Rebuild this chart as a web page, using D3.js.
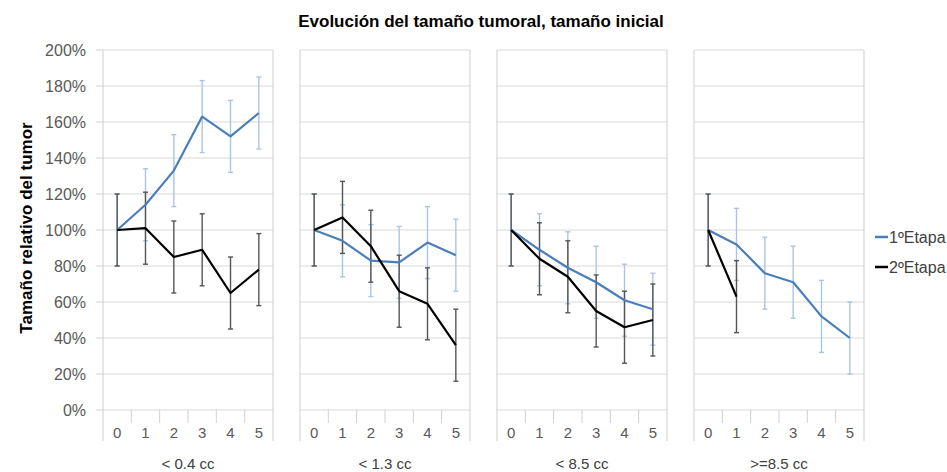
<!DOCTYPE html>
<html>
<head>
<meta charset="utf-8">
<script src="https://cdn.jsdelivr.net/npm/d3@7"></script>
<style>
  body { margin: 0; background: #fff; }
  text { font-family: "Liberation Sans", Arial, sans-serif; }
</style>
</head>
<body>
<svg id="chart" width="947" height="472"></svg>
<script>
// Groups (initial tumour size) and follow-up steps
var groups = ["< 0.4 cc", "< 1.3 cc", "< 8.5 cc", ">=8.5 cc"];
var steps = ["0", "1", "2", "3", "4", "5"];

// Relative tumour size (%) per group, 1st stage
var etapa1 = [
  [100, 114, 133, 163, 152, 165],
  [100, 94, 83, 82, 93, 86],
  [100, 89, 79, 71, 61, 56],
  [100, 92, 76, 71, 52, 40]
];
// 2nd stage
var etapa2 = [
  [100, 101, 85, 89, 65, 78],
  [100, 107, 91, 66, 59, 36],
  [100, 84, 74, 55, 46, 50],
  [100, 63]
];
// error bar half-width (%)
var errorBar = 20;

var yTicks = [0, 20, 40, 60, 80, 100, 120, 140, 160, 180, 200];
var seriesNames = ["1ºEtapa", "2ºEtapa"];

var plotTop = 50, plotBottom = 410;
var svg = d3.select("#chart");

var y = d3.scaleLinear().domain([0, 200]).range([plotBottom, plotTop]);
var gx = d3.scaleBand().domain(groups).range([103, 864]).paddingInner(0.137);

//Title
svg.append("text")
  .attr("x", 481).attr("y", 27)
  .attr("text-anchor", "middle")
  .style("font-size", "17px").style("font-weight", "bold")
  .attr("fill", "#000")
  .text("Evolución del tamaño tumoral, tamaño inicial");

//Y axis title
svg.append("text")
  .attr("transform", "translate(32," + 228 + ") rotate(-90)")
  .attr("text-anchor", "middle")
  .style("font-size", "17px").style("font-weight", "bold")
  .text("Tamaño relativo del tumor");

//Y tick labels and little ticks left of the first panel
svg.selectAll(".ylab").data(yTicks).enter().append("text")
  .attr("class", "ylab")
  .attr("x", 86).attr("y", function(d) { return y(d); })
  .attr("dy", "0.36em")
  .attr("text-anchor", "end")
  .attr("fill", "#595959")
  .style("font-size", "16px")
  .text(function(d) { return d + "%"; });

svg.selectAll(".ytick").data(yTicks).enter().append("line")
  .attr("class", "ytick")
  .attr("x1", 96).attr("x2", gx(groups[0]))
  .attr("y1", function(d) { return y(d); }).attr("y2", function(d) { return y(d); })
  .attr("stroke", "#d0d0d0");

var blue = "#4a7ebb", blueErr = "#a9c5e6", black = "#000", blackErr = "#555";

//One panel per group
groups.forEach(function(g, gi) {
  var x0 = gx(g), w = gx.bandwidth();
  var x = d3.scaleBand().domain(steps).range([x0, x0 + w]);
  var cx = function(d, i) { return x(steps[i]) + x.bandwidth() / 2; };
  var panel = svg.append("g");

  //gridlines
  panel.selectAll(".grid").data(yTicks).enter().append("line")
    .attr("x1", x0).attr("x2", x0 + w)
    .attr("y1", function(d) { return y(d); }).attr("y2", function(d) { return y(d); })
    .attr("stroke", "#d9d9d9");

  //panel sides down to the group label area
  panel.selectAll(".side").data([x0, x0 + w]).enter().append("line")
    .attr("x1", function(d) { return d; }).attr("x2", function(d) { return d; })
    .attr("y1", plotTop).attr("y2", 441)
    .attr("stroke", "#cfcfcf");

  //category ticks
  panel.selectAll(".xtick").data(steps.slice(1)).enter().append("line")
    .attr("x1", function(d) { return x(d); }).attr("x2", function(d) { return x(d); })
    .attr("y1", plotBottom).attr("y2", 423)
    .attr("stroke", "#d0d0d0");

  panel.selectAll(".xlab").data(steps).enter().append("text")
    .attr("x", function(d) { return x(d) + x.bandwidth() / 2; })
    .attr("y", 438)
    .attr("text-anchor", "middle")
    .attr("fill", "#595959")
    .style("font-size", "15px")
    .text(function(d) { return d; });

  panel.append("text")
    .attr("x", x0 + w / 2).attr("y", 469)
    .attr("text-anchor", "middle")
    .attr("fill", "#404040")
    .style("font-size", "15px")
    .text(g);

  //error bars then lines
  [[etapa1[gi], blueErr], [etapa2[gi], blackErr]].forEach(function(s) {
    var eb = panel.append("g").attr("stroke", s[1]).attr("stroke-width", 1.4);
    s[0].forEach(function(v, i) {
      var px = cx(v, i);
      eb.append("line").attr("x1", px).attr("x2", px)
        .attr("y1", y(v + errorBar)).attr("y2", y(v - errorBar));
      eb.append("line").attr("x1", px - 2.5).attr("x2", px + 2.5)
        .attr("y1", y(v + errorBar)).attr("y2", y(v + errorBar));
      eb.append("line").attr("x1", px - 2.5).attr("x2", px + 2.5)
        .attr("y1", y(v - errorBar)).attr("y2", y(v - errorBar));
    });
  });

  var line = d3.line().x(cx).y(function(d) { return y(d); });
  panel.append("path").datum(etapa1[gi])
    .attr("d", line).attr("fill", "none")
    .attr("stroke", blue).attr("stroke-width", 2.2)
    .attr("stroke-linejoin", "round");
  panel.append("path").datum(etapa2[gi])
    .attr("d", line).attr("fill", "none")
    .attr("stroke", black).attr("stroke-width", 2.2)
    .attr("stroke-linejoin", "round");
});

//Legend
var legend = svg.selectAll(".legend").data(seriesNames).enter().append("g")
  .attr("class", "legend")
  .attr("transform", function(d, i) { return "translate(875," + (237 + i * 30) + ")"; });
legend.append("line")
  .attr("x1", 0).attr("x2", 13).attr("y1", 0).attr("y2", 0)
  .attr("stroke", function(d, i) { return i === 0 ? blue : black; })
  .attr("stroke-width", 2.5);
legend.append("text")
  .attr("x", 14).attr("dy", "0.36em")
  .attr("fill", "#404040")
  .style("font-size", "16px")
  .text(function(d) { return d; });
</script>
</body>
</html>
